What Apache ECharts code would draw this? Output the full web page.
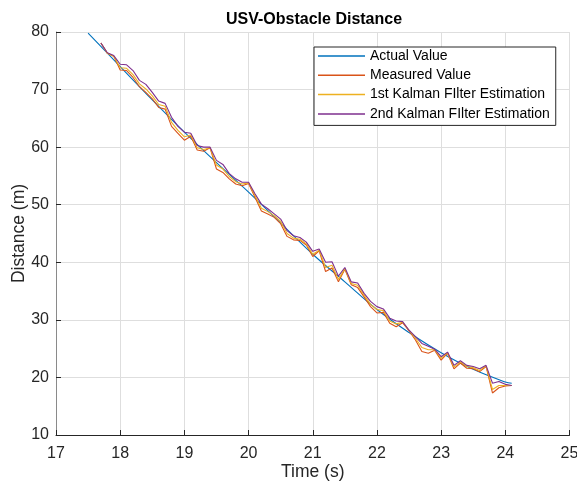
<!DOCTYPE html>
<html>
<head>
<meta charset="utf-8">
<script src="https://cdn.jsdelivr.net/npm/echarts@6/dist/echarts.min.js"></script>
<style>
  html, body { margin: 0; padding: 0; background: #ffffff; }
  #chart { width: 577px; height: 484px; }
</style>
</head>
<body>
<div id="chart"></div>
<script>
// Sample times (s) for the measured and filtered series
const sampleTimes = [
  17.7, 17.8, 17.9, 18.0, 18.1, 18.2, 18.3, 18.4, 18.5, 18.6,
  18.7, 18.8, 18.9, 19.0, 19.1, 19.2, 19.3, 19.4, 19.5, 19.6,
  19.7, 19.8, 19.9, 20.0, 20.1, 20.2, 20.3, 20.4, 20.5, 20.6,
  20.7, 20.8, 20.9, 21.0, 21.1, 21.2, 21.3, 21.4, 21.5, 21.6,
  21.7, 21.8, 21.9, 22.0, 22.1, 22.2, 22.3, 22.4, 22.5, 22.6,
  22.7, 22.8, 22.9, 23.0, 23.1, 23.2, 23.3, 23.4, 23.5, 23.6,
  23.7, 23.8, 23.9, 24.0, 24.1
];

// Measured distance (m)
const measuredValue = [
  78.1, 76.3, 75.8, 73.4, 73.3, 72.1, 70.5, 69.5, 68.4, 66.9,
  66.6, 63.6, 62.4, 61.2, 61.9, 59.5, 59.3, 59.9, 56.2, 55.6,
  54.5, 53.6, 53.3, 53.7, 51.3, 48.9, 48.4, 47.8, 46.7, 44.5,
  43.9, 43.8, 43.0, 41.0, 42.0, 38.4, 39.0, 36.6, 38.8, 36.1,
  35.6, 34.0, 32.3, 31.2, 31.3, 29.4, 28.8, 29.5, 28.1, 26.5,
  24.5, 24.2, 24.7, 23.0, 24.2, 21.5, 22.5, 21.6, 21.5, 21.0,
  21.9, 17.3, 18.2, 18.5, 18.6
];

// 1st Kalman filter estimate (m)
const kalman1Value = [
  78.1, 76.3, 75.8, 73.8, 73.7, 72.6, 71.0, 70.1, 68.9, 67.4,
  67.1, 64.3, 62.9, 61.8, 62.1, 59.9, 59.6, 59.9, 56.9, 56.2,
  54.9, 54.0, 53.6, 53.8, 51.6, 49.4, 48.8, 48.1, 47.1, 45.0,
  44.2, 44.0, 43.2, 41.4, 42.1, 39.1, 39.5, 37.0, 38.9, 36.3,
  36.0, 34.3, 32.7, 31.8, 31.6, 29.8, 29.3, 29.6, 28.2, 26.8,
  25.2, 24.8, 24.8, 23.3, 24.3, 21.8, 22.7, 21.9, 21.7, 21.2,
  22.0, 17.9, 18.6, 18.6, 18.6
];

// 2nd Kalman filter estimate (m)
const kalman2Value = [
  78.1, 76.4, 75.9, 74.4, 74.3, 73.3, 71.6, 70.9, 69.5, 68.0,
  67.6, 65.2, 63.6, 62.6, 62.4, 60.3, 60.0, 60.0, 57.7, 57.0,
  55.4, 54.5, 53.9, 53.9, 51.9, 50.1, 49.3, 48.4, 47.5, 45.5,
  44.6, 44.3, 43.5, 41.9, 42.3, 40.0, 40.1, 37.6, 39.1, 36.6,
  36.4, 34.6, 33.2, 32.3, 31.9, 30.3, 29.8, 29.7, 28.2, 27.1,
  25.9, 25.4, 24.9, 23.6, 24.4, 22.1, 22.9, 22.1, 21.9, 21.5,
  22.1, 19.0, 19.3, 18.8, 18.6
];

// True distance, sampled every 0.5 s
const actualTimes = [17.5, 18.0, 18.5, 19.0, 19.5, 20.0, 20.5, 21.0, 21.5, 22.0, 22.5, 23.0, 23.5, 24.0, 24.1];
const actualValue = [79.8, 74.0, 68.2, 62.6, 57.3, 52.2, 46.8, 41.4, 36.6, 31.8, 27.8, 24.3, 21.4, 19.2, 19.0];

const xTicks = [17, 18, 19, 20, 21, 22, 23, 24, 25];
const yTicks = [10, 20, 30, 40, 50, 60, 70, 80];

const seriesNames = ['Actual Value', 'Measured Value', '1st Kalman FIlter Estimation', '2nd Kalman FIlter Estimation'];
const seriesColors = ['#0072BD', '#D95319', '#EDB120', '#7E2F8E'];

const pair = (xs, ys) => xs.map((x, i) => [x, ys[i]]);

const FONT = 'Liberation Sans, Arial, Helvetica, sans-serif';
const INK = '#262626';

const chart = echarts.init(document.getElementById('chart'), null, { renderer: 'canvas' });

const lineSeries = (idx, data, smooth) => ({
  name: seriesNames[idx],
  type: 'line',
  data: data,
  smooth: smooth,
  symbol: 'none',
  showSymbol: false,
  animation: false,
  lineStyle: { color: seriesColors[idx], width: 1.1 },
  itemStyle: { color: seriesColors[idx] },
  z: 2 + idx
});

chart.setOption({
  backgroundColor: '#ffffff',
  animation: false,
  title: {
    text: 'USV-Obstacle Distance',
    left: 221,
    top: 7,
    textStyle: { fontFamily: FONT, fontSize: 16, fontWeight: 'bold', color: '#000000' }
  },
  grid: { left: 56, right: 7.5, top: 32, bottom: 49, containLabel: false, outerBoundsMode: 'none' },
  legend: {
    orient: 'vertical',
    left: 314,
    top: 47,
    padding: [2, 6, 4.5, 4],
    itemGap: 5.3,
    itemWidth: 47,
    itemHeight: 1.5,
    icon: 'rect',
    borderColor: INK,
    borderWidth: 1,
    borderRadius: 0,
    backgroundColor: '#ffffff',
    data: seriesNames,
    textStyle: { fontFamily: FONT, fontSize: 14, lineHeight: 14, color: '#000000' }
  },
  xAxis: {
    type: 'value',
    min: xTicks[0],
    max: xTicks[xTicks.length - 1],
    interval: 1,
    name: 'Time (s)',
    nameLocation: 'middle',
    nameMoveOverlap: false,
    nameGap: 28,
    nameTextStyle: { fontFamily: FONT, fontSize: 17.5, color: INK },
    axisLine: { show: true, onZero: false, lineStyle: { color: INK, width: 1 } },
    axisTick: { show: true, inside: true, length: 5, lineStyle: { color: INK } },
    axisLabel: { fontFamily: FONT, fontSize: 16, color: INK, margin: 11 },
    splitLine: { show: true, lineStyle: { color: '#dedede', width: 1 } }
  },
  yAxis: {
    type: 'value',
    min: yTicks[0],
    max: yTicks[yTicks.length - 1],
    interval: 10,
    name: 'Distance (m)',
    nameLocation: 'middle',
    nameMoveOverlap: false,
    nameGap: 28,
    nameTextStyle: { fontFamily: FONT, fontSize: 17.5, color: INK },
    axisLine: { show: true, onZero: false, lineStyle: { color: '#8a8a8a', width: 1 } },
    axisTick: { show: true, inside: true, length: 5, lineStyle: { color: INK } },
    axisLabel: { fontFamily: FONT, fontSize: 16, color: INK, margin: 7 },
    splitLine: { show: true, lineStyle: { color: '#dedede', width: 1 } }
  },
  series: [
    lineSeries(0, pair(actualTimes, actualValue), 0.4),
    lineSeries(1, pair(sampleTimes, measuredValue), false),
    lineSeries(2, pair(sampleTimes, kalman1Value), false),
    lineSeries(3, pair(sampleTimes, kalman2Value), false)
  ]
});
</script>
</body>
</html>
